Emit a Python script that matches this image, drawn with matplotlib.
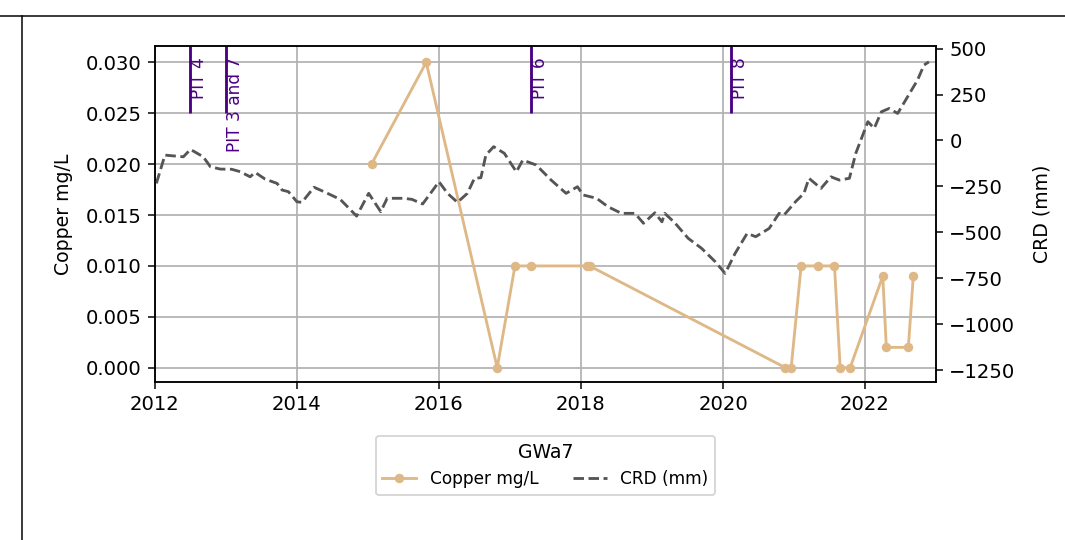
import matplotlib
matplotlib.use("Agg")
from matplotlib import pyplot as plt
from matplotlib.lines import Line2D

# Copper samples (decimal year, mg/L)
copper_years = [2015.05, 2015.82, 2016.82, 2017.07, 2017.29, 2018.08, 2018.12,
                2020.88, 2020.96, 2021.10, 2021.34, 2021.57, 2021.65, 2021.79,
                2022.25, 2022.30, 2022.61, 2022.68]
copper_values = [0.020, 0.030, 0.000, 0.010, 0.010, 0.010, 0.010,
                 0.000, 0.000, 0.010, 0.010, 0.010, 0.000, 0.000,
                 0.009, 0.002, 0.002, 0.009]

# Cumulative rainfall deviation (decimal year, mm)
crd_years = [2012.02, 2012.14, 2012.40, 2012.50, 2012.68, 2012.78, 2012.92,
             2013.08, 2013.20, 2013.34, 2013.41, 2013.55, 2013.72, 2013.79,
             2013.88, 2014.00, 2014.07, 2014.24, 2014.38, 2014.61, 2014.84,
             2015.01, 2015.18, 2015.27, 2015.51, 2015.62, 2015.77, 2016.00,
             2016.12, 2016.26, 2016.40, 2016.50, 2016.59, 2016.66, 2016.77,
             2016.92, 2017.09, 2017.18, 2017.37, 2017.58, 2017.79, 2017.95,
             2018.03, 2018.22, 2018.38, 2018.57, 2018.76, 2018.88, 2019.04,
             2019.14, 2019.18, 2019.32, 2019.51, 2019.70, 2019.89, 2020.03,
             2020.17, 2020.34, 2020.46, 2020.65, 2020.79, 2020.86, 2021.02,
             2021.14, 2021.21, 2021.38, 2021.52, 2021.64, 2021.78, 2021.87,
             2022.04, 2022.13, 2022.23, 2022.34, 2022.46, 2022.60, 2022.74,
             2022.83, 2022.90]
crd_values = [-234, -80, -89, -49, -89, -143, -156,
              -157, -170, -198, -174, -210, -234, -270,
              -279, -334, -337, -255, -279, -321, -412,
              -288, -388, -315, -315, -321, -346, -225,
              -288, -337, -288, -206, -203, -80, -34,
              -70, -171, -107, -134, -216, -288, -252,
              -297, -315, -361, -397, -397, -451, -394,
              -443, -397, -448, -533, -588, -660, -724,
              -615, -506, -524, -479, -397, -406, -334,
              -288, -206, -261, -198, -216, -206, -70,
              102, 66, 156, 174, 147, 238, 329,
              410, 428]

# Pit events
pit_years = [2012.49, 2013.0, 2017.29, 2020.11]
pit_labels = ["PIT 4", "PIT 3 and 7", "PIT 6", "PIT 8"]

x_ticks = [2012, 2014, 2016, 2018, 2020, 2022]
crd_ticks = [500, 250, 0, -250, -500, -750, -1000, -1250]

DPI = 136
fig = plt.figure(figsize=(1065 / DPI, 540 / DPI), dpi=DPI)
ax = fig.add_axes([0.1455, 0.2926, 0.7334, 0.6222])
ax2 = ax.twinx()

copper_line, = ax.plot(copper_years, copper_values, color="burlywood",
                       marker="o", markersize=4, label="Copper mg/L")
crd_line, = ax2.plot(crd_years, crd_values, color="#555555",
                     linestyle="--", label="CRD (mm)")

ax.set_ylim(-0.0014, 0.0316)
ax2.set_ylim(-1315, 514)
ax.set_xlim(2012, 2023)
ax.set_xticks(x_ticks)
ax.set_xticklabels([str(t) for t in x_ticks])
ax.set_yticks([0.0, 0.005, 0.010, 0.015, 0.020, 0.025, 0.030])
ax.set_yticklabels(["0.000", "0.005", "0.010", "0.015", "0.020", "0.025", "0.030"])
ax2.set_yticks(crd_ticks)
ax.tick_params(labelsize=10.4)
ax2.tick_params(labelsize=10.4)

ax.set_ylabel("Copper mg/L", labelpad=7)
ax2.set_ylabel("CRD (mm)", labelpad=9)
ax.grid(True, color="#b0b0b0", linewidth=0.9)

for year, label in zip(pit_years, pit_labels):
    ax.vlines(year, 0.025, 0.0316, color="indigo", linewidth=1.5)
    ax.text(year, 0.0305, label, rotation=90, ha="left", va="top",
            color="indigo", fontsize=9)

ax.legend(handles=[copper_line, crd_line], title="GWa7", ncol=2, fontsize=9,
          loc="upper center", bbox_to_anchor=(0.5, -0.135))

# cell borders from the surrounding layout
fig.add_artist(Line2D([0, 1], [1 - 16 / 540, 1 - 16 / 540], color="black",
                      linewidth=0.8, transform=fig.transFigure))
fig.add_artist(Line2D([22 / 1065, 22 / 1065], [0, 1 - 16 / 540], color="black",
                      linewidth=0.8, transform=fig.transFigure))

fig.savefig("out.png", dpi=DPI)
